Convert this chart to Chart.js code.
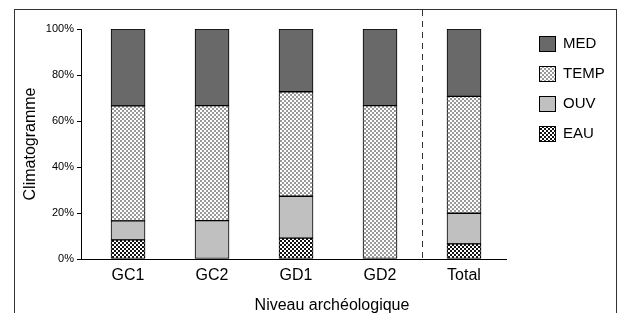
<!DOCTYPE html>
<html>
<head>
<meta charset="utf-8">
<script src="https://cdn.jsdelivr.net/npm/chart.js@4"></script>
<style>
  html, body { margin: 0; padding: 0; background: #fff; }
  #wrap { width: 621px; height: 313px; }
</style>
</head>
<body>
<div id="wrap"><canvas id="climChart" width="621" height="313"></canvas></div>
<script>
// data (percent of each level)
const categories = ['GC1', 'GC2', 'GD1', 'GD2', 'Total'];
const eau  = [8.3, 0, 9.1, 0, 6.6];
const ouv  = [8.3, 16.7, 18.2, 0, 13.3];
const temp = [50, 50, 45.4, 66.7, 50.8];
const med  = [33.4, 33.3, 27.3, 33.3, 29.3];
const yTicks = [0, 20, 40, 60, 80, 100];
const xTitle = 'Niveau archéologique';

Chart.defaults.font.family = '"Liberation Sans", Arial, sans-serif';
Chart.defaults.color = '#000';

const canvas = document.getElementById('climChart');
const ctx = canvas.getContext('2d');

// small repeating fills for the hatched series
function makePattern(size, draw) {
    const c = document.createElement('canvas');
    c.width = size; c.height = size;
    const p = c.getContext('2d');
    draw(p);
    return ctx.createPattern(c, 'repeat');
}
const tempFill = makePattern(4, p => {
    p.fillStyle = '#fff'; p.fillRect(0, 0, 4, 4);
    p.fillStyle = '#999'; p.fillRect(0, 0, 2, 2); p.fillRect(2, 2, 2, 2);
});
const eauFill = makePattern(4, p => {
    p.fillStyle = '#fff'; p.fillRect(0, 0, 4, 4);
    p.fillStyle = '#111';
    p.fillRect(0, 0, 2, 2); p.fillRect(2, 2, 2, 2);
    p.fillRect(1, 1, 1, 1); p.fillRect(3, 3, 1, 1);
});

const toPoints = arr => arr.map((v, i) => ({ x: i, y: v }));

const series = [
    { label: 'EAU', data: eau, fill: eauFill },
    { label: 'OUV', data: ouv, fill: '#c0c0c0' },
    { label: 'TEMP', data: temp, fill: tempFill },
    { label: 'MED', data: med, fill: '#696969' }
];

// frame, dashed separator, x title and legend
const decorations = {
    id: 'decorations',
    beforeDraw(chart) {
        const c = chart.ctx;
        c.save();
        c.fillStyle = '#fff';
        c.fillRect(0, 0, chart.width, chart.height);
        c.strokeStyle = '#333';
        c.lineWidth = 1;
        c.strokeRect(14.5, 9.5, 602, 400);
        c.restore();
    },
    afterDraw(chart) {
        const c = chart.ctx;
        const x = Math.round(chart.scales.x.getPixelForValue(3.5)) + 0.5;
        c.save();
        c.strokeStyle = '#333';
        c.lineWidth = 1;
        c.setLineDash([6, 5]);
        c.beginPath();
        c.moveTo(x, 10);
        c.lineTo(x, chart.chartArea.bottom);
        c.stroke();
        c.setLineDash([]);

        // axis title sits right of the plot centre in the original
        c.fillStyle = '#000';
        c.font = '16px "Liberation Sans", Arial, sans-serif';
        c.textAlign = 'center';
        c.textBaseline = 'alphabetic';
        c.fillText(xTitle, 332, 310);

        // legend, top to bottom: MED, TEMP, OUV, EAU
        const items = chart.data.datasets.slice().reverse();
        c.font = '15px "Liberation Sans", Arial, sans-serif';
        c.textAlign = 'left';
        c.textBaseline = 'middle';
        items.forEach((ds, i) => {
            const top = 36 + i * 30;
            c.fillStyle = ds.backgroundColor;
            c.fillRect(539, top, 17, 16);
            c.strokeStyle = '#000';
            c.strokeRect(539.5, top + 0.5, 16, 15);
            c.fillStyle = '#000';
            c.fillText(ds.label, 563, top + 8);
        });
        c.restore();
    }
};

new Chart(ctx, {
    type: 'bar',
    data: {
        datasets: series.map(s => ({
            label: s.label,
            data: toPoints(s.data),
            backgroundColor: s.fill,
            borderColor: '#000',
            borderWidth: 1,
            borderSkipped: false,
            barThickness: 34
        }))
    },
    options: {
        responsive: false,
        animation: false,
        layout: { padding: { left: 21, top: 29, right: 115, bottom: 0 } },
        plugins: {
            legend: { display: false },
            tooltip: { enabled: false }
        },
        scales: {
            x: {
                type: 'linear',
                stacked: true,
                offset: false,
                min: -0.56,
                max: 4.5,
                afterBuildTicks: s => { s.ticks = categories.map((c, i) => ({ value: i })); },
                afterFit: s => { s.height = 54; },
                ticks: {
                    autoSkip: false,
                    maxRotation: 0,
                    padding: -1,
                    font: { size: 16 },
                    callback: v => categories[v]
                },
                grid: { display: false, offset: false },
                border: { display: true, color: '#000', width: 1 }
            },
            y: {
                stacked: true,
                min: 0,
                max: 100,
                afterBuildTicks: s => { s.ticks = yTicks.map(v => ({ value: v })); },
                afterFit: s => { s.width = 60; },
                ticks: {
                    padding: 3,
                    font: { size: 11 },
                    callback: v => v + '%'
                },
                grid: {
                    drawOnChartArea: false,
                    drawTicks: true,
                    tickLength: 4,
                    color: '#000'
                },
                border: { display: true, color: '#000', width: 1 },
                title: {
                    display: true,
                    text: 'Climatogramme',
                    font: { size: 16 },
                    padding: { top: 0, bottom: 4 }
                }
            }
        }
    },
    plugins: [decorations]
});
</script>
</body>
</html>
